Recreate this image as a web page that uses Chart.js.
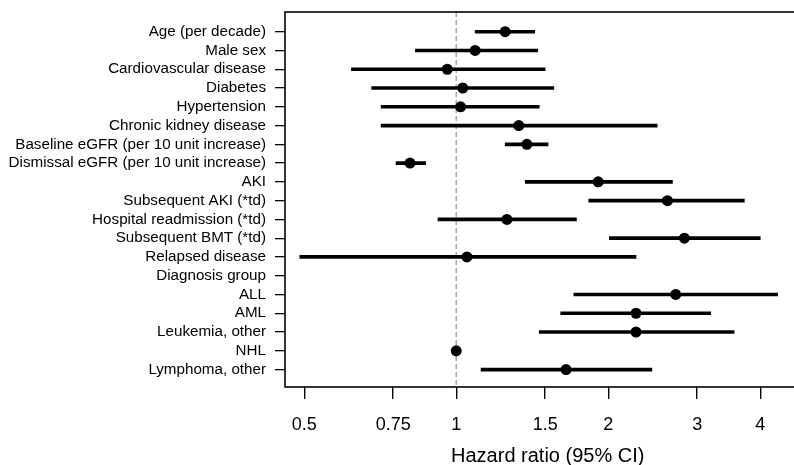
<!DOCTYPE html>
<html>
<head>
<meta charset="utf-8">
<script src="https://cdn.jsdelivr.net/npm/chart.js@4/dist/chart.umd.min.js"></script>
<style>
  html, body { margin: 0; padding: 0; background: #fff; overflow: hidden; }
  #wrap { position: relative; width: 816px; height: 465px; }
</style>
</head>
<body>
<div id="wrap"><canvas id="c"></canvas></div>
<script>
const categories = [
  "Age (per decade)", "Male sex", "Cardiovascular disease", "Diabetes", "Hypertension",
  "Chronic kidney disease", "Baseline eGFR (per 10 unit increase)", "Dismissal eGFR (per 10 unit increase)",
  "AKI", "Subsequent AKI (*td)", "Hospital readmission (*td)", "Subsequent BMT (*td)",
  "Relapsed disease", "Diagnosis group", "ALL", "AML", "Leukemia, other", "NHL", "Lymphoma, other"
];
const hazardRatio = [1.25, 1.09, 0.96, 1.03, 1.02, 1.33, 1.38, 0.81, 1.91, 2.62, 1.26, 2.83, 1.05, null, 2.72, 2.27, 2.27, 1.00, 1.65];
const lowerCI     = [1.09, 0.83, 0.62, 0.68, 0.71, 0.71, 1.25, 0.76, 1.37, 1.83, 0.92, 2.01, 0.49, null, 1.71, 1.61, 1.46, null, 1.12];
const upperCI     = [1.43, 1.45, 1.50, 1.56, 1.46, 2.50, 1.52, 0.87, 2.68, 3.72, 1.73, 4.00, 2.27, null, 4.33, 3.19, 3.55, null, 2.44];
const xTickValues = [0.5, 0.75, 1, 1.5, 2, 3, 4];
const xTickLabels = ["0.5", "0.75", "1", "1.5", "2", "3", "4"];
const referenceValue = 1;

const ciData = [];
const pointData = [];
categories.forEach((c, i) => {
  if (lowerCI[i] != null && upperCI[i] != null) ciData.push({ y: i + 1, x: [lowerCI[i], upperCI[i]] });
  if (hazardRatio[i] != null) pointData.push({ x: hazardRatio[i], y: i + 1 });
});

const FONT = "'Liberation Sans', Arial, sans-serif";

const boxPlugin = {
  id: 'boxAndRef',
  beforeDatasetsDraw(chart) {
    const { ctx, chartArea: a, scales } = chart;
    const xp = scales.x.getPixelForValue(referenceValue);
    ctx.save();
    ctx.strokeStyle = '#a8a8a8';
    ctx.lineWidth = 1.5;
    ctx.setLineDash([5, 3]);
    ctx.beginPath();
    ctx.moveTo(xp, a.top);
    ctx.lineTo(xp, a.bottom);
    ctx.stroke();
    ctx.restore();
  },
  afterDraw(chart) {
    const { ctx, chartArea: a } = chart;
    ctx.save();
    ctx.strokeStyle = '#000';
    ctx.lineWidth = 1.6;
    ctx.strokeRect(a.left, a.top, a.right - a.left, a.bottom - a.top);
    ctx.restore();
  }
};

new Chart(document.getElementById('c'), {
  type: 'bar',
  data: {
    datasets: [
      {
        type: 'bar',
        indexAxis: 'y',
        data: ciData,
        backgroundColor: '#000',
        borderWidth: 0,
        barThickness: 3,
        xAxisID: 'x',
        yAxisID: 'y'
      },
      {
        type: 'scatter',
        data: pointData,
        backgroundColor: '#000',
        borderColor: '#000',
        pointRadius: 5.5,
        pointHoverRadius: 5.5,
        borderWidth: 0,
        xAxisID: 'x',
        yAxisID: 'y'
      }
    ]
  },
  options: {
    responsive: true,
    maintainAspectRatio: false,
    animation: false,
    layout: { padding: { top: 12, left: 0, right: 0, bottom: 0 } },
    plugins: { legend: { display: false }, tooltip: { enabled: false } },
    scales: {
      x: {
        type: 'logarithmic',
        min: 0.458,
        max: 5.03,
        offset: false,
        position: 'bottom',
        afterBuildTicks: (axis) => { axis.ticks = xTickValues.map(v => ({ value: v })); },
        afterFit: (axis) => { axis.height = 78; axis.paddingLeft = 0; axis.paddingRight = 0; },
        border: { display: false },
        grid: { offset: false, drawOnChartArea: false, drawTicks: true, tickLength: 12, color: '#000', tickColor: '#000', lineWidth: 1.4 },
        ticks: {
          autoSkip: false,
          maxRotation: 0,
          padding: 15,
          color: '#000',
          font: { family: FONT, size: 18 },
          callback: (v, i) => xTickLabels[i]
        },
        title: {
          display: true,
          text: 'Hazard ratio (95% CI)',
          color: '#000',
          font: { family: FONT, size: 20, lineHeight: 1 },
          padding: { top: 0, bottom: -1 }
        }
      },
      y: {
        type: 'linear',
        reverse: true,
        min: -0.05,
        max: 19.93,
        offset: false,
        afterBuildTicks: (axis) => { axis.ticks = categories.map((_, i) => ({ value: i + 1 })); },
        afterFit: (axis) => { axis.width = 285; axis.paddingTop = 0; axis.paddingBottom = 0; },
        border: { display: false },
        grid: { offset: false, drawOnChartArea: false, drawTicks: true, tickLength: 10, color: '#000', tickColor: '#000', lineWidth: 1.3 },
        ticks: {
          autoSkip: false,
          padding: 9,
          color: '#000',
          font: { family: FONT, size: 15.2 },
          callback: (v) => categories[Math.round(v) - 1] || ''
        }
      }
    }
  },
  plugins: [boxPlugin]
});
</script>
</body>
</html>
